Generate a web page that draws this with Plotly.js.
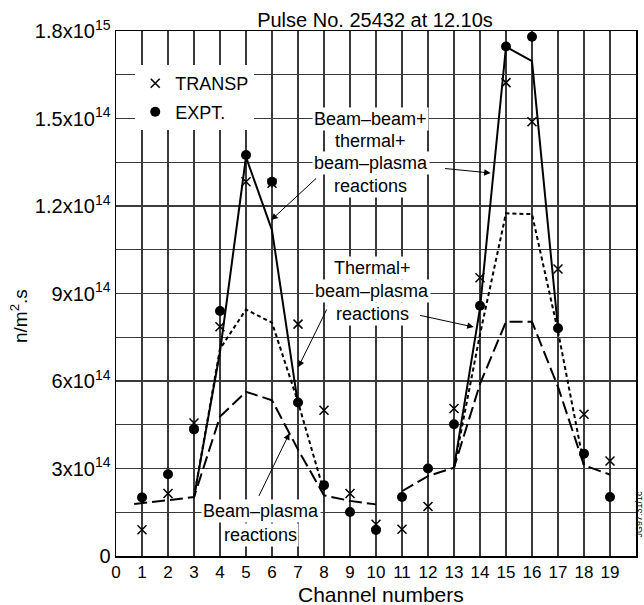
<!DOCTYPE html>
<html>
<head>
<meta charset="utf-8">
<script src="https://cdn.plot.ly/plotly-3.0.1.min.js"></script>
<style>html,body{margin:0;padding:0;background:#fff;}#chart{width:644px;height:605px;}</style>
</head>
<body>
<div id="chart"></div>
<script>
// Values in units of 1e14 n/m^2.s
const channels = [1,2,3,4,5,6,7,8,9,10,11,12,13,14,15,16,17,18,19];
const transp = [0.9,2.14,4.56,7.86,12.83,12.78,7.95,5.0,2.14,1.09,0.92,1.70,5.06,9.54,16.23,14.89,9.84,4.86,3.26];
const expt   = [2.01,2.80,4.34,8.40,13.75,12.83,5.26,2.43,1.51,0.89,2.02,3.0,4.52,8.58,17.47,17.8,7.81,3.51,2.02];

// Beam-plasma reactions (long dash)
const bpX = [0.7,3,4,5,6,7,8,9,10,null,11,12,13,14,15,16,17,18,19];
const bpY = [1.78,2.02,4.78,5.63,5.34,3.65,2.08,1.89,1.77,null,2.22,2.74,3.03,5.9,8.03,8.03,5.8,3.11,2.79];

// Thermal + beam-plasma reactions (short dash)
const thX = [3,4,5,6,7,8,null,13,14,15,16,17,18];
const thY = [2.02,7.1,8.45,8.0,5.28,2.2,null,3.03,7.6,11.75,11.72,7.7,3.11];

// Beam-beam + thermal + beam-plasma reactions (solid)
const totX = [3,4,5,6,7,null,13,14,15,16,17];
const totY = [2.02,7.0,13.68,11.17,5.2,null,3.03,8.5,17.46,16.97,7.8];

const xTickVals = [0,1,2,3,4,5,6,7,8,9,10,11,12,13,14,15,16,17,18,19,20];
const yTickVals = [0,3,6,9,12,15,18];
const yTickText = ["0","3x10<sup>14</sup>","6x10<sup>14</sup>","9x10<sup>14</sup>","1.2x10<sup>14</sup>","1.5x10<sup>14</sup>","1.8x10<sup>15</sup>"];
const yMinorVals = [1.5,4.5,7.5,10.5,13.5,16.5];

const FONT = "Liberation Sans, Arial, Helvetica, sans-serif";

const traces = [
  {x: bpX, y: bpY, mode: 'lines', line: {color: '#000', width: 2, dash: '13px,5px'}, showlegend: false, hoverinfo: 'skip'},
  {x: thX, y: thY, mode: 'lines', line: {color: '#000', width: 2, dash: '4px,3px'}, showlegend: false, hoverinfo: 'skip'},
  {x: totX, y: totY, mode: 'lines', line: {color: '#000', width: 2}, showlegend: false, hoverinfo: 'skip'},
  {x: channels, y: transp, mode: 'markers', name: 'TRANSP', legendgroup: 'a',
   marker: {symbol: 'x-thin-open', size: 9, color: '#000', line: {color: '#000', width: 1.5}}},
  {x: channels, y: expt, mode: 'markers', name: 'EXPT.', legendgroup: 'b',
   marker: {symbol: 'circle', size: 10, color: '#000'}}
];

function txt(x, y, t) {
  return {x: x, y: y, xref: 'x', yref: 'y', text: t, showarrow: false,
          bgcolor: '#fff', borderpad: 1, font: {family: FONT, size: 18, color: '#000'},
          xanchor: 'center', yanchor: 'middle'};
}
function arrow(tx, ty, hx, hy) {
  return {x: hx, y: hy, ax: tx, ay: ty, xref: 'x', yref: 'y', axref: 'x', ayref: 'y',
          text: '', showarrow: true, arrowhead: 2, arrowsize: 1.3, arrowwidth: 1, arrowcolor: '#000', standoff: 0, startstandoff: 0};
}

const annotations = [
  txt(9.8, 14.98, 'Beam–beam+'),
  txt(9.8, 14.22, 'thermal+'),
  txt(9.8, 13.47, 'beam–plasma'),
  txt(9.8, 12.68, 'reactions'),
  txt(9.85, 9.87, 'Thermal+'),
  txt(9.85, 9.08, 'beam–plasma'),
  txt(9.85, 8.29, 'reactions'),
  txt(5.59, 1.53, 'Beam–plasma'),
  txt(5.55, 0.71, 'reactions'),
  arrow(7.75, 12.99, 5.97, 11.52),
  arrow(12.6, 13.29, 14.41, 13.13),
  arrow(11.64, 8.26, 13.76, 7.85),
  arrow(8.13, 8.5, 7.01, 6.47),
  arrow(5.47, 2.01, 6.67, 4.21),
  {x: (19 - 116) / 520, y: (556 - 316) / 525, xref: 'paper', yref: 'paper', text: 'n/m<sup>2</sup>.s', showarrow: false,
   textangle: -90, font: {family: FONT, size: 19, color: '#000'}, xanchor: 'center', yanchor: 'middle'},
  {x: 10.2, y: (556 - 594) / 525, xref: 'x', yref: 'paper', text: 'Channel numbers', showarrow: false,
   font: {family: FONT, size: 21, color: '#000'}, xanchor: 'center', yanchor: 'middle'},
  {x: (638.5 - 116) / 520, y: (556 - 514) / 525, xref: 'paper', yref: 'paper', text: 'JG97.31/1c', showarrow: false,
   textangle: -90, font: {family: FONT, size: 9, color: '#000'}, xanchor: 'center', yanchor: 'middle', borderpad: 0}
];

const layout = {
  width: 644, height: 605,
  margin: {l: 116, r: 8, t: 31, b: 49, pad: 0},
  paper_bgcolor: '#fff', plot_bgcolor: '#fff',
  font: {family: FONT, color: '#000'},
  title: {text: 'Pulse No. 25432 at 12.10s', x: 375/644, xanchor: 'center', y: 1 - 20/605, yanchor: 'middle',
          font: {family: FONT, size: 20, color: '#000'}},
  xaxis: {range: [0, 20], tickmode: 'array', tickvals: xTickVals,
          showgrid: true, gridcolor: '#3a3a3a', gridwidth: 1.3, zeroline: false,
          showline: true, linecolor: '#000', linewidth: 1.5, mirror: true, ticks: '',
          tickfont: {family: FONT, size: 17, color: '#000'}, fixedrange: true},
  yaxis: {range: [0, 18], tickmode: 'array', tickvals: yTickVals, ticktext: yTickText,
          showgrid: true, gridcolor: '#3a3a3a', gridwidth: 1.3, zeroline: false,
          minor: {tickmode: 'array', tickvals: yMinorVals, showgrid: true, gridcolor: '#3a3a3a', gridwidth: 1.3, ticks: ''},
          showline: true, linecolor: '#000', linewidth: 1.5, mirror: true, ticks: '',
          tickfont: {family: FONT, size: 20, color: '#000'}, fixedrange: true},
  legend: {x: 0.037, y: 0.935, xanchor: 'left', yanchor: 'top', bgcolor: '#fff', borderwidth: 0,
           font: {family: FONT, size: 18, color: '#000'}, tracegroupgap: 2, itemwidth: 30},
  showlegend: true,
  annotations: annotations
};

Plotly.newPlot('chart', traces, layout, {staticPlot: true, displayModeBar: false});
</script>
</body>
</html>
